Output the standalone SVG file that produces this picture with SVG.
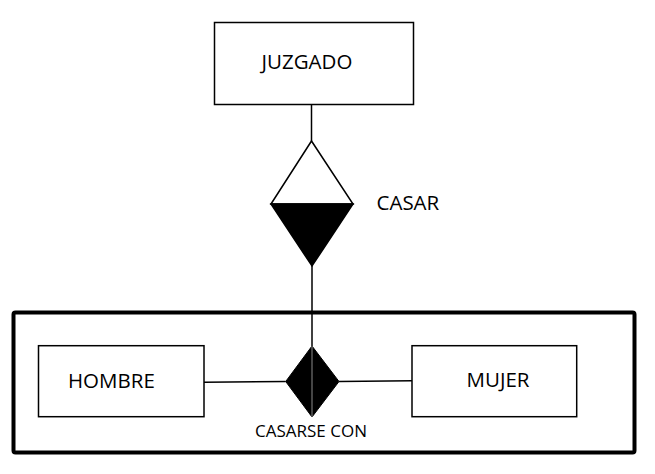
<svg xmlns="http://www.w3.org/2000/svg" width="655" height="474" viewBox="0 0 655 474">
<style>
.box{fill:#fff;stroke:#000;stroke-width:1.5}
.lbl{font-family:"Open Sans","Liberation Sans",sans-serif;font-size:20.5px;fill:#000}
.small{font-family:"Open Sans","Liberation Sans",sans-serif;font-size:17px;fill:#000}
.con{stroke:#000;stroke-width:1.5;fill:none}
</style>
<rect x="0" y="0" width="655" height="474" fill="#fff"/>
<g id="agregacion">
<rect x="13.5" y="312.5" width="621" height="140" rx="2" fill="none" stroke="#000" stroke-width="4"/>
</g>
<g id="connectors">
<line class="con" x1="311.5" y1="105" x2="311.5" y2="141"/>
<line class="con" x1="312" y1="266" x2="312" y2="346"/>
<line class="con" x1="204" y1="382.3" x2="285.7" y2="381.5"/>
<line class="con" x1="339" y1="381.5" x2="412" y2="380.7"/>
</g>
<g id="juzgado">
<rect class="box" x="214.5" y="22.5" width="199" height="82"/>
<text class="lbl" x="261.5" y="68.5">JUZGADO</text>
</g>
<g id="casar">
<polygon points="271,204 311.5,141 353,204" fill="#fff" stroke="#000" stroke-width="1.5"/>
<polygon points="271,204 353,204 312,266" fill="#000" stroke="#000" stroke-width="1.5"/>
<text class="lbl" x="376.5" y="210">CASAR</text>
</g>
<g id="hombre">
<rect class="box" x="38.5" y="345.7" width="165.5" height="71"/>
<text class="lbl" x="68" y="388.3">HOMBRE</text>
</g>
<g id="mujer">
<rect class="box" x="412" y="345.7" width="164.7" height="71"/>
<text class="lbl" x="466.5" y="387">MUJER</text>
</g>
<g id="casarse_con">
<polygon points="312,346 339,381.5 312,417 285.7,381.5" fill="#000" stroke="#000" stroke-width="1"/>
<line x1="312" y1="346" x2="312" y2="417" stroke="#8a8a8a" stroke-width="1"/>
<text class="small" x="255" y="437.3">CASARSE CON</text>
</g>
</svg>
